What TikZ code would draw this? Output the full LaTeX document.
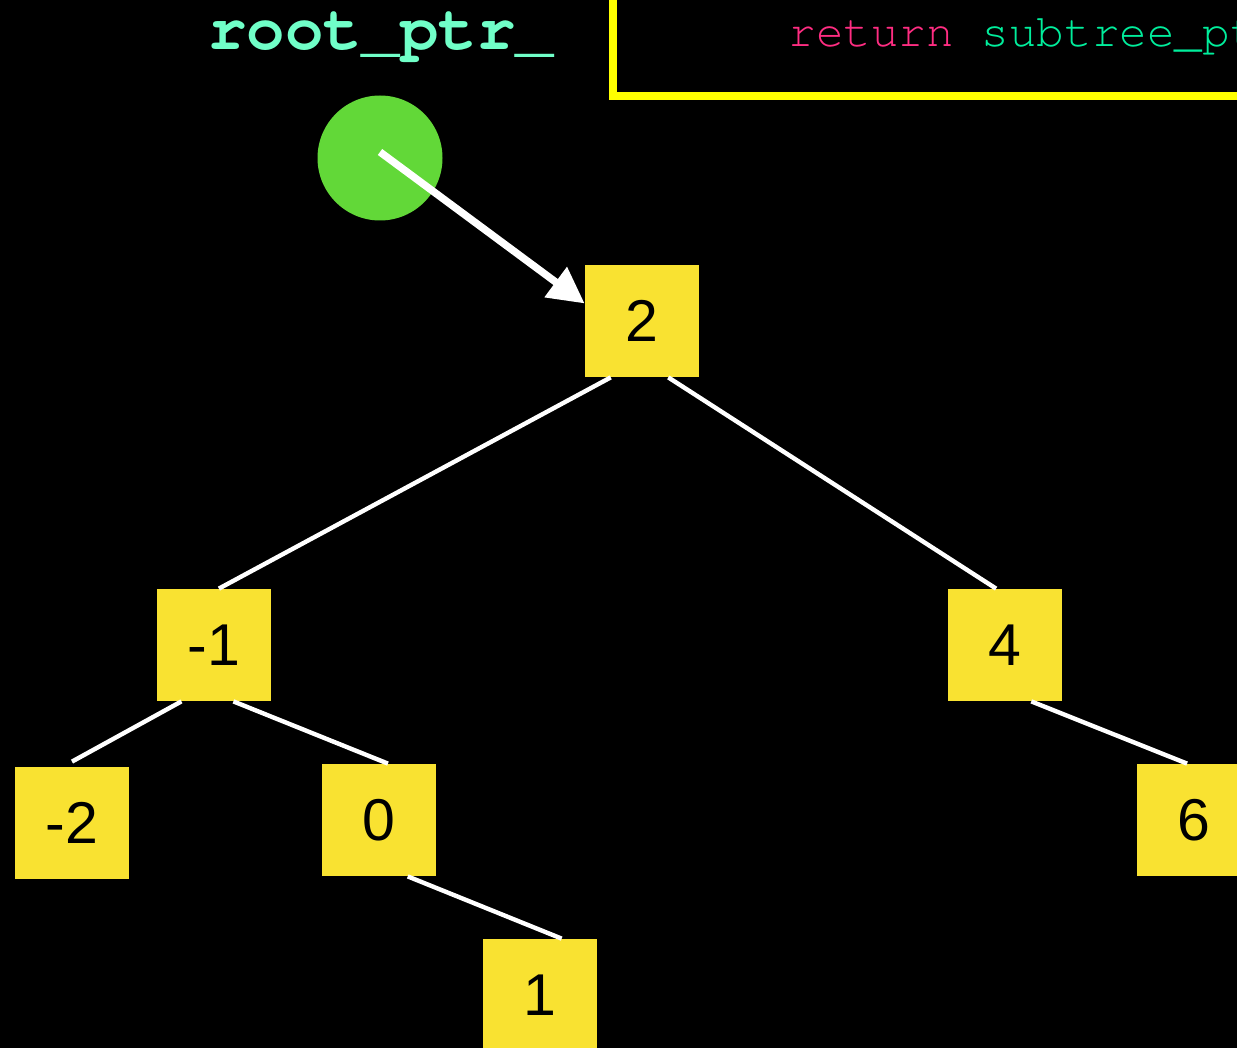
\documentclass[tikz,border=0pt]{standalone}
\usepackage{fontspec}
\setmainfont{Liberation Sans}
\newfontfamily\codefont{TeX Gyre Cursor}
\usetikzlibrary{arrows.meta}

\definecolor{keyyellow}{RGB}{249,226,49}
\definecolor{ptrgreen}{RGB}{98,216,56}
\definecolor{labelmint}{RGB}{112,255,200}
\definecolor{boxyellow}{RGB}{255,255,0}
\definecolor{kwpink}{RGB}{255,45,130}
\definecolor{idgreen}{RGB}{0,238,156}

\begin{document}
\begin{tikzpicture}[x=0.5pt, y=-0.5pt]
        \tikzstyle{key} = [rectangle, fill=keyyellow, minimum width=57pt, minimum height=56pt, inner sep=0pt, font=\fontsize{29.5}{29.5}\selectfont]
        \tikzstyle{edge} = [draw=white, line width=2.2pt]
        \tikzstyle{pointer} = [draw=white, line width=3.7pt, -{Triangle[length=18pt, width=18pt]}]

        \useasboundingbox (0,0) rectangle (1237,1048);
        \clip (0,0) rectangle (1237,1048);
        \fill[black] (0,0) rectangle (1237,1048);

        % code panel, runs off the top right
        \draw[boxyellow, line width=4pt, fill=black] (613,-20) rectangle (1270,96);
        \node (code) [anchor=base west, inner sep=0pt, font=\codefont\fontsize{23}{23}\selectfont] at (788,47)
            {\textcolor{kwpink}{return} \textcolor{idgreen}{subtree\_pt}};

        % the pointer
        \node (label) [anchor=base, inner sep=0pt, text=labelmint, font=\codefont\bfseries\fontsize{32}{32}\selectfont] at (381,50) {root\_ptr\_};
        \node (ptr) [circle, fill=ptrgreen, minimum size=62.5pt, inner sep=0pt] at (380,158) {};

        % the tree
        \node (two) [key] at (642,321) {2};
        \node (m1) [key] at (214,645) {-1};
        \node (four) [key] at (1005,645) {4};
        \node (m2) [key] at (72,823) {-2};
        \node (zero) [key] at (379,820) {0};
        \node (six) [key] at (1194,820) {6};
        \node (one) [key] at (540,995) {1};

        \draw [pointer] ([yshift=3pt]ptr.center) -- (two.163);

        \draw [edge] (two.241) -- (m1.85);
        \draw [edge] (two.-65) -- (four.99);
        \draw [edge] (m1.240) -- ([yshift=2.5pt]m2.north);
        \draw [edge] (m1.-71) -- (zero.81);
        \draw [edge] (zero.-63) -- (one.69);
        \draw [edge] (four.-65) -- (six.97);
\end{tikzpicture}
\end{document}
